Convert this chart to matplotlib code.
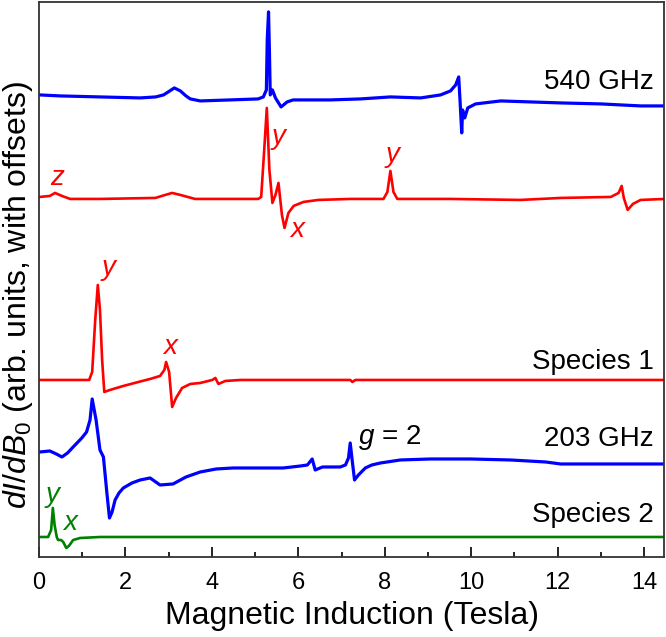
import matplotlib
matplotlib.use("Agg")
import matplotlib.pyplot as plt
from matplotlib.ticker import MultipleLocator

plt.rcParams['font.family'] = ['Liberation Sans', 'DejaVu Sans']
plt.rcParams['mathtext.fontset'] = 'custom'
plt.rcParams['mathtext.rm'] = 'Liberation Sans'
plt.rcParams['mathtext.it'] = 'Liberation Sans:italic'

# ---- data (field in Tesla, intensity in arb. units relative to each baseline) ----
b540 = [0.02, 0.49, 1.41, 2.34, 2.70, 2.88, 2.99, 3.13, 3.27, 3.40, 3.50, 3.73, 4.42, 5.07, 5.19,
        5.26, 5.28, 5.31, 5.33, 5.35, 5.40, 5.47, 5.60, 5.74, 5.88, 6.74, 7.44, 8.13, 8.83, 9.29,
        9.52, 9.64, 9.71, 9.74, 9.78, 9.80, 9.85, 9.92, 10.10, 10.68, 11.37, 12.07, 13.00, 13.92,
        14.48]
i540 = [4, 3, 2, 1, 2, 4, 7, 11, 8, 3, 0, -2, -1, 0, 2,
        9, 59, 87, 49, 4, 9, 1, -8, -3, -1, -1, 0, 2, 1, 4,
        8, 14, 22, -1, -34, -11, -19, -9, -5, -2, -3, -4, -5, -7,
        -7]

bsim540 = [0.02, 0.25, 0.37, 0.53, 0.72, 1.41, 2.69, 2.92, 3.08, 3.27, 3.61, 4.66, 5.07, 5.14,
           5.21, 5.27, 5.33, 5.40, 5.47, 5.54, 5.62, 5.68, 5.77, 5.89, 6.12, 6.46, 7.20, 7.97,
           8.06, 8.13, 8.20, 8.29, 9.52, 11.14, 12.07, 13.23, 13.41, 13.48, 13.53, 13.62, 13.74,
           13.92, 14.48]
isim540 = [2, 3, 6, 3, 0, 0, 1, 4, 6, 4, 0, 0, 0, 2,
           49, 91, 29, -4, 4, 16, -16, -29, -14, -7, -3, -1, 0, 0,
           7, 28, 7, 0, 0, -1, 1, 2, 6, 13, 1, -11, -5,
           -1, 0]

bsp1 = [0.02, 1.16, 1.23, 1.30, 1.36, 1.41, 1.46, 1.51, 1.64, 1.95, 2.30, 2.57, 2.80, 2.90,
        2.94, 3.01, 3.08, 3.17, 3.31, 3.50, 3.73, 4.01, 4.08, 4.15, 4.31, 4.66, 7.20, 7.25,
        7.32, 14.48]
isp1 = [0, 0, 8, 60, 95, 70, 20, -12, -10, -6, -2, 1, 4, 10,
        18, 8, -27, -18, -8, -4, -3, 0, 2, -4, -1, 0, 0, -2,
        0, 0]

b203 = [0.02, 0.25, 0.40, 0.53, 0.66, 0.79, 0.99, 1.10, 1.18, 1.23, 1.32, 1.41, 1.49, 1.57,
        1.63, 1.69, 1.76, 1.85, 1.95, 2.15, 2.34, 2.57, 2.80, 3.10, 3.40, 3.73, 4.10, 4.49,
        5.65, 6.05, 6.21, 6.32, 6.39, 6.56, 6.97, 7.09, 7.16, 7.20, 7.25, 7.30, 7.39, 7.55,
        7.70, 7.90, 8.36, 9.06, 9.98, 10.91, 11.72, 12.07, 13.00, 14.48]
i203 = [15, 16, 13, 10, 14, 20, 29, 35, 47, 68, 47, 17, 10, -26,
        -51, -45, -33, -26, -21, -16, -13, -11, -18, -17, -10, -5, -2, -1,
        -1, 1, 2, 8, -3, 0, 0, 2, 9, 24, 5, -13, -8, -1,
        2, 4, 7, 8, 8, 7, 5, 3, 3, 3]

bsp2 = [0.02, 0.21, 0.28, 0.32, 0.36, 0.41, 0.44, 0.51, 0.56, 0.63, 0.69, 0.79, 0.95, 1.41, 14.48]
isp2 = [0, 0, 7, 29, 12, 0, -3, -3, -5, -11, -9, -3, -1, 0, 0]

offsets = [458, 358, 177, 90, 20]
colors = ['#0000ff', '#ff0000', '#ff0000', '#0000ff', '#008000']
widths = [2.3, 1.9, 1.9, 2.3, 1.9]
names = ['540 GHz', '', 'Species 1', '203 GHz', 'Species 2']
name_y = [475, None, 195, 118, 42]

fields = [b540, bsim540, bsp1, b203, bsp2]
intens = [i540, isim540, isp1, i203, isp2]

# ---- plot ----
fig = plt.figure(figsize=(6.66, 6.37), dpi=100)
ax = fig.add_axes([0.0586, 0.1256, 0.9384, 0.8714])

for f, i, off, c, w in zip(fields, intens, offsets, colors, widths):
    ax.plot(f, [v + off for v in i], color=c, lw=w, solid_joinstyle='round')

for n, y in zip(names, name_y):
    if n:
        ax.text(14.22, y, n, ha='right', va='center', fontsize=20, color='black')

ax.text(7.39, 119, r'$g$ = 2', ha='left', va='center', fontsize=20)

red_labels = [('z', 0.42, 379), ('y', 5.54, 420), ('x', 5.97, 327), ('y', 8.18, 402),
              ('y', 1.60, 289), ('x', 3.03, 210)]
for t, x, y in red_labels:
    ax.text(x, y, t, color='#ff0000', fontsize=20, style='italic', ha='center', va='center')
for t, x, y in [('y', 0.32, 62), ('x', 0.72, 34)]:
    ax.text(x, y, t, color='#008000', fontsize=20, style='italic', ha='center', va='center')

ax.set_xlim(0, 14.46)
ax.set_ylim(0, 555)
ax.set_yticks([])
ax.xaxis.set_major_locator(MultipleLocator(2))
ax.xaxis.set_minor_locator(MultipleLocator(1))
ax.tick_params(axis='x', which='major', direction='in', length=7, width=1.2, labelsize=17, pad=11)
ax.tick_params(axis='x', which='minor', direction='in', length=3.5, width=1.2)
for s in ax.spines.values():
    s.set_linewidth(1.3)
    s.set_color('#333333')

ax.set_xlabel('Magnetic Induction (Tesla)', fontsize=23, labelpad=5)
ax.set_ylabel(r'$dI/dB_0$ (arb. units, with offsets)', fontsize=23)
ax.yaxis.label.set_va('center')
ax.yaxis.set_label_coords(-0.034, 0.472)

fig.savefig('out.png', dpi=100)
